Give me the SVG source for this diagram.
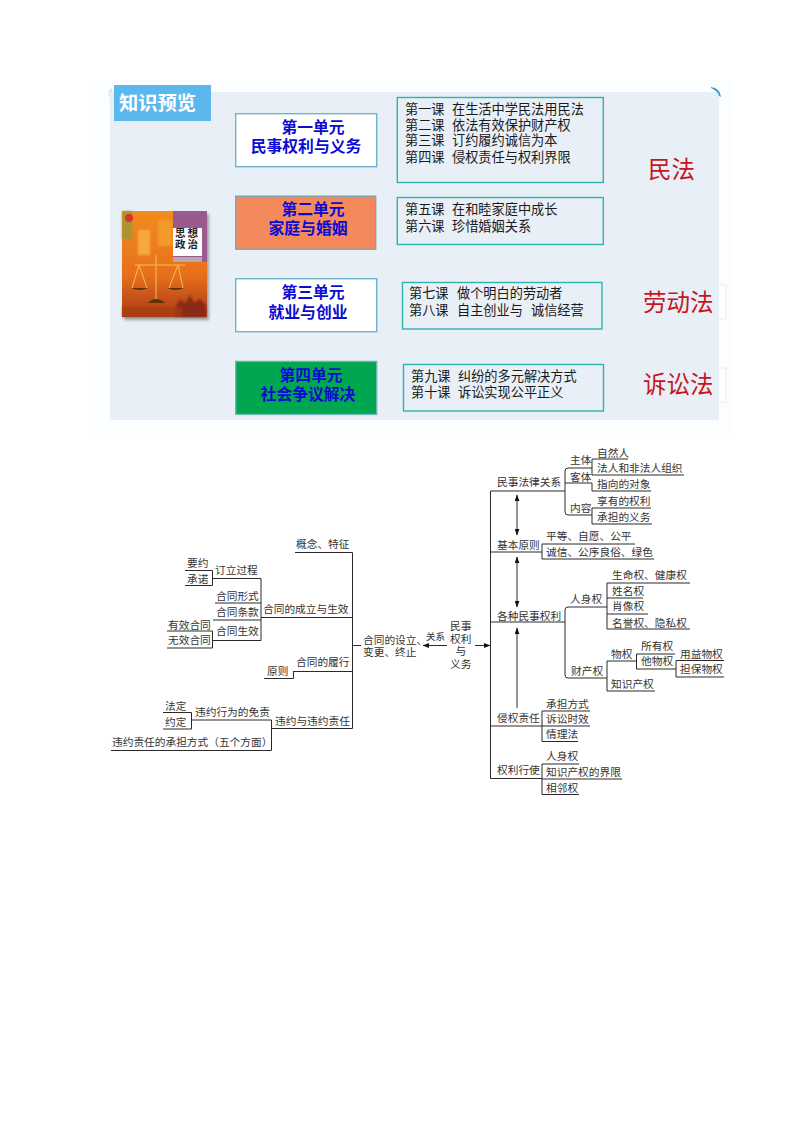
<svg xmlns="http://www.w3.org/2000/svg" width="794" height="1123" viewBox="0 0 794 1123">
<style>
text{font-family:"Noto Sans CJK SC","Noto Sans",sans-serif}
.u{fill:#fff;stroke:#6fb3cc;stroke-width:1.4}
.l{fill:none;stroke:#2fb3ad;stroke-width:1.4}
.ut{font-size:15.8px;font-weight:700;fill:#0b0bd2;text-anchor:middle}
.lt{font-size:13.2px;fill:#1a1a1a}
.r{fill:#c5161d}
.rl{font-size:23.5px}
.m{font-size:10.7px;fill:#333}
.c path,.c line{fill:none;stroke:#2a2a2a;stroke-width:1}
</style>
<defs>
<marker id="a" markerUnits="userSpaceOnUse" viewBox="0 0 8 6" refX="7.5" refY="3" markerWidth="7" markerHeight="5" orient="auto-start-reverse"><path d="M0 0L8 3L0 6z" fill="#111"/></marker>
<linearGradient id="cv" x1="0" y1="0" x2="0" y2="1"><stop offset="0" stop-color="#f08c1e"/><stop offset=".6" stop-color="#e8701c"/><stop offset="1" stop-color="#a83a14"/></linearGradient>
<filter id="b" x="-10%" y="-10%" width="120%" height="120%"><feGaussianBlur stdDeviation="1"/></filter>
<filter id="s" x="-10%" y="-10%" width="120%" height="120%"><feGaussianBlur stdDeviation="1.500"/></filter>
</defs>
<rect x="95" y="80" width="638" height="353" fill="#fcfdfe"/>
<path d="M112 88a7 7 0 0 0 0 12z" fill="#dfe3e8"/>
<rect x="110" y="92" width="609" height="328" fill="#e9eff6"/>
<path d="M711 87q9 1 10 10l-2 -1q-1 -5 -8 -8z" fill="#3f9fd8"/>
<path d="M719 285h7v34h-7M719 368h7v34h-7" fill="#fff" stroke="#e6e9ee"/>
<g id="title"><rect x="114" y="85" width="97" height="36" fill="#5cb8ec"/><text x="119" y="110" font-size="19.3" font-weight="700" fill="#fff">知识预览</text></g>
<g id="cover">
<rect x="124" y="214" width="85" height="106" fill="#9aa0a8" filter="url(#s)"/>
<rect x="122" y="211" width="85" height="106" fill="url(#cv)"/>
<g filter="url(#b)">
<rect x="122" y="211" width="10" height="28" fill="#8c9a3a" opacity=".7"/>
<rect x="138" y="230" width="12" height="25" fill="#f7a83c"/>
<rect x="158" y="220" width="14" height="26" fill="#f39a2c"/>
<path d="M175 317l1 -12 5 -6 4 5 5 -9 4 8 6 -4 6 6v12z" fill="#8a2c12"/>
<path d="M122 317v-10h60v10z" fill="#a63a12" opacity=".6"/>
</g>
<rect x="173" y="211" width="34" height="51" fill="#9a5a8e"/>
<rect x="173" y="228" width="29" height="28" fill="#fff"/>
<rect x="173" y="257" width="29" height="5" fill="#b8a8b0"/>
<text x="187.5" y="237" font-size="10.500" font-weight="700" fill="#222" text-anchor="middle" letter-spacing="2">思想</text>
<text x="187.5" y="248" font-size="10.500" font-weight="700" fill="#222" text-anchor="middle" letter-spacing="2">政治</text>
<circle cx="129" cy="218" r="4" fill="#d8352a"/>
<path d="M156 255V300M135 265H185M139 265L132 288M139 265L147 288M178 265L169 288M178 265L183 288" fill="none" stroke="#f4c04e" stroke-width="1"/>
<path d="M131 288h17q-8 4 -17 0zM167 288h17q-8 4 -17 0zM148 303Q156 295 165 303z" fill="#5c3208"/>
</g>
<g id="unit1"><rect class="u" x="235.700" y="113.700" width="141" height="53"/><text class="ut" x="313" y="133">第一单元</text><text class="ut" x="306" y="152">民事权利与义务</text></g>
<g id="unit2"><rect x="235.700" y="196.200" width="140" height="53" fill="#f4895c" stroke="#7ea6ad" stroke-width="1.400"/><text class="ut" x="313" y="215">第二单元</text><text class="ut" x="308" y="234">家庭与婚姻</text></g>
<g id="unit3"><rect class="u" x="235.700" y="278.700" width="141" height="53"/><text class="ut" x="313" y="298">第三单元</text><text class="ut" x="308" y="318">就业与创业</text></g>
<g id="unit4"><rect x="235.700" y="361.400" width="141" height="53" fill="#00a650" stroke="#6fb3b0" stroke-width="1.400"/><text class="ut" x="311" y="381">第四单元</text><text class="ut" x="308" y="400">社会争议解决</text></g>
<g id="lessons1"><rect class="l" x="397.300" y="97.500" width="206" height="85"/>
<text class="lt" x="405" y="114">第一课</text><text class="lt" x="452" y="114">在生活中学民法用民法</text>
<text class="lt" x="405" y="130">第二课</text><text class="lt" x="452" y="130">依法有效保护财产权</text>
<text class="lt" x="405" y="145">第三课</text><text class="lt" x="452" y="145">订约履约诚信为本</text>
<text class="lt" x="405" y="162">第四课</text><text class="lt" x="452" y="162">侵权责任与权利界限</text></g>
<g id="lessons2"><rect class="l" x="397.300" y="197.500" width="206" height="47"/>
<text class="lt" x="405" y="214">第五课</text><text class="lt" x="452" y="214">在和睦家庭中成长</text>
<text class="lt" x="405" y="231">第六课</text><text class="lt" x="452" y="231">珍惜婚姻关系</text></g>
<g id="lessons3"><rect class="l" x="402.500" y="282.500" width="199.500" height="46.500"/>
<text class="lt" x="409" y="298">第七课</text><text class="lt" x="457" y="298">做个明白的劳动者</text>
<text class="lt" x="409" y="315">第八课</text><text class="lt" x="457" y="315">自主创业与</text><text class="lt" x="531" y="315">诚信经营</text></g>
<g id="lessons4"><rect class="l" x="403.500" y="364.500" width="200" height="46.500"/>
<text class="lt" x="411" y="381">第九课</text><text class="lt" x="458" y="381">纠纷的多元解决方式</text>
<text class="lt" x="411" y="397">第十课</text><text class="lt" x="458" y="397">诉讼实现公平正义</text></g>
<g id="law1"><text class="r rl" x="648" y="178">民法</text></g>
<g id="law2"><text class="r rl" x="643" y="311">劳动法</text></g>
<g id="law3"><text class="r rl" x="643" y="393">诉讼法</text></g>

<g id="connectors" class="c">
<path d="M295 552.500H352.500V728.500H272M261 617.500H352.500M293 671.500H352.500M352.500 645.500H361"/>
<path d="M213 578.500H261V640.500H213M215 603H261M213 620H261M185 570.500H212.500V585.500H185M167 631H212.500V648H167"/>
<path d="M293.500 671.500V678.500H264"/>
<path d="M111 750.500H271.500V720H192M163 712.500H191.500V729H163"/>
<line x1="447" y1="645.500" x2="423" y2="645.500" marker-end="url(#a)"/>
<line x1="475" y1="645.500" x2="490" y2="645.500" marker-end="url(#a)"/>
<path d="M490.500 491V778.500M490.500 491H565M490.500 552H542M490.500 622H565M490.500 726H542M490.500 778.500H542"/>
<line x1="517" y1="495" x2="517" y2="535" marker-start="url(#a)" marker-end="url(#a)"/>
<line x1="517" y1="557" x2="517" y2="607" marker-start="url(#a)" marker-end="url(#a)"/>
<line x1="517" y1="708" x2="517" y2="628" marker-end="url(#a)"/>
<path d="M592 468H568Q565 468 565 471V512Q565 515 568 515H592M565 483H592M592 459V475M592 459H628M592 475H684M592 483V491H651M592 508V524M592 508H651M592 524H652"/>
<path d="M542 544V559M542 544H635M542 559H654"/>
<path d="M607 607H568Q565 607 565 610V675Q565 678 568 678H607M607 583V629M607 583H690M607 598H643M607 614H648M607 629H690"/>
<path d="M607 661V691M607 661H636.500M607 691H655M636.500 654V669M636.500 654H675M636.500 669H676M676 660.500V677M676 660.500H724M676 677H724"/>
<path d="M542 711V741.500M542 711H590M542 726H590M542 741.500H578M542 764V794.500M542 764H579M542 779H622M542 794.500H579"/>
</g>

<g id="n1"><text class="m" x="296" y="548">概念、特征</text></g>
<g id="n2"><text class="m" x="263" y="613">合同的成立与生效</text></g>
<g id="n3"><text class="m" x="215" y="574">订立过程</text></g>
<g id="n4"><text class="m" x="187" y="567">要约</text></g>
<g id="n5"><text class="m" x="187" y="583">承诺</text></g>
<g id="n6"><text class="m" x="216" y="600">合同形式</text></g>
<g id="n7"><text class="m" x="216" y="616">合同条款</text></g>
<g id="n8"><text class="m" x="216" y="635">合同生效</text></g>
<g id="n9"><text class="m" x="168" y="629">有效合同</text></g>
<g id="n10"><text class="m" x="168" y="644">无效合同</text></g>
<g id="n11"><text class="m" x="296" y="666">合同的履行</text></g>
<g id="n12"><text class="m" x="267" y="675">原则</text></g>
<g id="n13"><text class="m" x="275" y="725">违约与违约责任</text></g>
<g id="n14"><text class="m" x="195" y="716">违约行为的免责</text></g>
<g id="n15"><text class="m" x="165" y="710">法定</text></g>
<g id="n16"><text class="m" x="165" y="726">约定</text></g>
<g id="n17"><text class="m" x="112" y="746">违约责任的承担方式（五个方面）</text></g>
<g id="center-left"><text class="m" x="363" y="644">合同的设立、</text><text class="m" x="363" y="656">变更、终止</text></g>
<g id="rel"><text x="426" y="640" font-size="9.500" fill="#333">关系</text></g>
<g id="center-right"><text class="m" x="450" y="630">民事</text><text class="m" x="450" y="643">权利</text><text class="m" x="455.500" y="655">与</text><text class="m" x="450" y="668">义务</text></g>
<g id="r1"><text class="m" x="497" y="486">民事法律关系</text></g>
<g id="r2"><text class="m" x="570" y="464">主体</text></g>
<g id="r3"><text class="m" x="570" y="481">客体</text></g>
<g id="r4"><text class="m" x="570" y="512">内容</text></g>
<g id="r5"><text class="m" x="597" y="457">自然人</text></g>
<g id="r6"><text class="m" x="597" y="472">法人和非法人组织</text></g>
<g id="r7"><text class="m" x="597" y="488">指向的对象</text></g>
<g id="r8"><text class="m" x="597" y="505">享有的权利</text></g>
<g id="r9"><text class="m" x="597" y="521">承担的义务</text></g>
<g id="r10"><text class="m" x="497" y="549">基本原则</text></g>
<g id="r11"><text class="m" x="546" y="540">平等、自愿、公平</text></g>
<g id="r12"><text class="m" x="546" y="556">诚信、公序良俗、绿色</text></g>
<g id="r13"><text class="m" x="497" y="620">各种民事权利</text></g>
<g id="r14"><text class="m" x="570" y="603">人身权</text></g>
<g id="r15"><text class="m" x="612" y="579">生命权、健康权</text></g>
<g id="r16"><text class="m" x="612" y="595">姓名权</text></g>
<g id="r17"><text class="m" x="612" y="610">肖像权</text></g>
<g id="r18"><text class="m" x="612" y="627">名誉权、隐私权</text></g>
<g id="r19"><text class="m" x="571" y="675">财产权</text></g>
<g id="r20"><text class="m" x="611" y="658">物权</text></g>
<g id="r21"><text class="m" x="641" y="650">所有权</text></g>
<g id="r22"><text class="m" x="641" y="665">他物权</text></g>
<g id="r23"><text class="m" x="680" y="658">用益物权</text></g>
<g id="r24"><text class="m" x="680" y="673">担保物权</text></g>
<g id="r25"><text class="m" x="611" y="688">知识产权</text></g>
<g id="r26"><text class="m" x="497" y="722">侵权责任</text></g>
<g id="r27"><text class="m" x="546" y="708">承担方式</text></g>
<g id="r28"><text class="m" x="546" y="723">诉讼时效</text></g>
<g id="r29"><text class="m" x="546" y="738">情理法</text></g>
<g id="r30"><text class="m" x="497" y="774">权利行使</text></g>
<g id="r31"><text class="m" x="546" y="760">人身权</text></g>
<g id="r32"><text class="m" x="546" y="776">知识产权的界限</text></g>
<g id="r33"><text class="m" x="546" y="792">相邻权</text></g>
</svg>
